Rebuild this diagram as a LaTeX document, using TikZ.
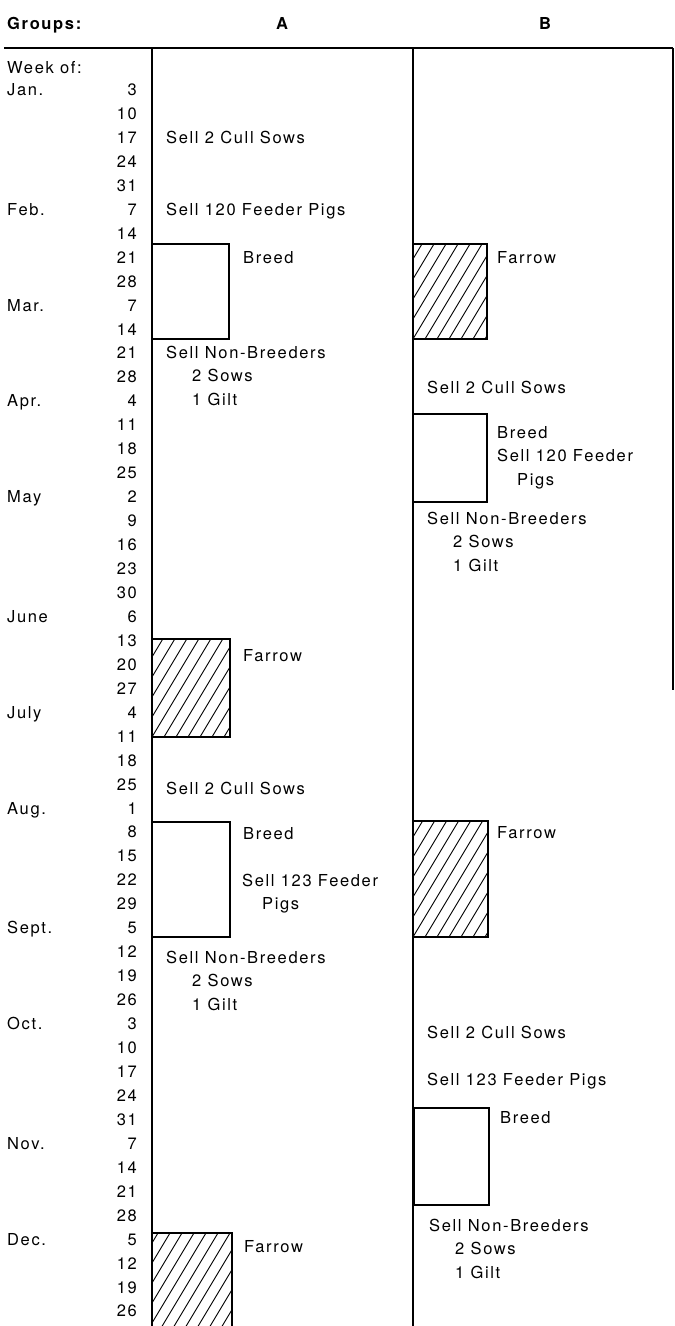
\documentclass[tikz,border=0pt]{standalone}
\usepackage{fontspec}
\setmainfont{TeX Gyre Heros}[LetterSpace=10]

\begin{document}
\begin{tikzpicture}[x=1pt, y=-1pt, font=\fontsize{16.5}{23.95}\selectfont,
  rule/.style={line width=1.6pt},
  txt/.style={anchor=base west, inner sep=0pt, align=left},
  num/.style={anchor=base east, inner sep=0pt},
  head/.style={anchor=base, inner sep=0pt, font=\fontsize{16.5}{18}\selectfont\bfseries},
  breedbox/.style={draw, line width=1.3pt, anchor=north west, inner sep=0pt, outer sep=0pt},
  farrowbox/.style={breedbox, path picture={
      \foreach \k in {-10,...,8}{\draw[line width=0.9pt] ([xshift=\k*12pt]path picture bounding box.south west) -- ++(120pt,200pt);}}}]
  \clip (0,0) rectangle (675,1326);
  % --- header ---
  \node[head, anchor=base west] (groups) at (7,29) {Groups:};
  \node[head] (grpA) at (282,29) {A};
  \node[head] (grpB) at (545,29) {B};
  \draw[rule] (4,48) -- (673,48);
  % --- week column ---
  \node[txt] (weekof) at (7,73) {Week of:};
  \foreach \m/\i in {Jan./0,Feb./5,Mar./9,Apr./13,May/17,June/22,July/26,Aug./30,Sept./35,Oct./39,Nov./44,Dec./48}{
    \node[txt] (mon\i) at (7,{95.5+23.95*\i}) {\m};
  }
  \foreach \d [count=\i from 0] in {3,10,17,24,31,7,14,21,28,7,14,21,28,4,11,18,25,2,9,16,23,30,6,13,20,27,
                                    4,11,18,25,1,8,15,22,29,5,12,19,26,3,10,17,24,31,7,14,21,28,5,12,19,26}{
    \node[num] (wk\i) at (137,{95.5+23.95*\i}) {\d};
  }
  % --- group A ---  (multi-line texts sit on the baseline of their last line)
  \node[txt] (acull1) at (166,143) {Sell 2 Cull Sows};
  \node[txt] (afeed1) at (166,215) {Sell 120 Feeder Pigs};
  \node[breedbox, minimum width=77pt, minimum height=95pt] (abreed1) at (152,244) {};
  \node[txt] (abreedlab1) at (243,263) {Breed};
  \node[txt] (anon1) at (166,{358+2*23.95}) {Sell Non-Breeders\\\hspace*{26pt}2 Sows\\\hspace*{26pt}1 Gilt};
  \node[farrowbox, minimum width=78pt, minimum height=98pt] (afarrow1) at (152,639) {};
  \node[txt] (afarrowlab1) at (243,661) {Farrow};
  \node[txt] (acull2) at (166,794) {Sell 2 Cull Sows};
  \node[breedbox, minimum width=78pt, minimum height=115pt] (abreed2) at (152,822) {};
  \node[txt] (abreedlab2) at (243,839) {Breed};
  \node[txt] (afeed2) at (242,{886+23.95}) {Sell 123 Feeder\\\hspace*{20pt}Pigs};
  \node[txt] (anon2) at (166,{963+2*23.95}) {Sell Non-Breeders\\\hspace*{26pt}2 Sows\\\hspace*{26pt}1 Gilt};
  \node[farrowbox, minimum width=80pt, minimum height=110pt] (afarrow2) at (152,1233) {};
  \node[txt] (afarrowlab2) at (244,1252) {Farrow};
  % --- group B ---
  \node[farrowbox, minimum width=74pt, minimum height=95pt] (bfarrow1) at (413,244) {};
  \node[txt] (bfarrowlab1) at (497,263) {Farrow};
  \node[txt] (bcull1) at (427,393) {Sell 2 Cull Sows};
  \node[breedbox, minimum width=74pt, minimum height=88pt] (bbreed1) at (413,414) {};
  \node[txt] (bbreedlab1) at (497,{438+2*23.95}) {Breed\\Sell 120 Feeder\\\hspace*{20pt}Pigs};
  \node[txt] (bnon1) at (427,{524+2*23.95}) {Sell Non-Breeders\\\hspace*{26pt}2 Sows\\\hspace*{26pt}1 Gilt};
  \node[farrowbox, minimum width=75pt, minimum height=116pt] (bfarrow2) at (413,821) {};
  \node[txt] (bfarrowlab2) at (497,838) {Farrow};
  \node[txt] (bcull2) at (427,1038) {Sell 2 Cull Sows};
  \node[txt] (bfeed2) at (427,1085) {Sell 123 Feeder Pigs};
  \node[breedbox, minimum width=75pt, minimum height=97pt] (bbreed2) at (414,1108) {};
  \node[txt] (bbreedlab2) at (500,1123) {Breed};
  \node[txt] (bnon2) at (429,{1231+2*23.95}) {Sell Non-Breeders\\\hspace*{26pt}2 Sows\\\hspace*{26pt}1 Gilt};
  % --- rules ---
  \draw[rule] (152,48) -- (152,1326);
  \draw[rule] (413,48) -- (413,1326);
  \draw[rule] (673,48) -- (673,690);
\end{tikzpicture}
\end{document}
